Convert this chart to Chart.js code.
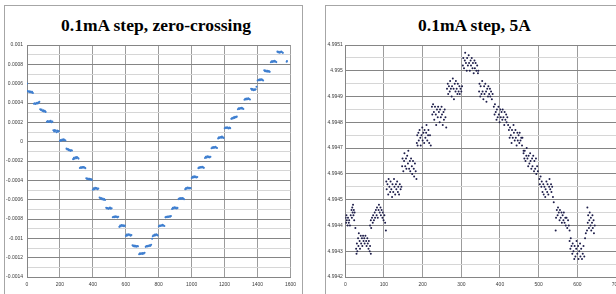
<!DOCTYPE html>
<html>
<head>
<meta charset="utf-8">
<script src="https://cdn.jsdelivr.net/npm/chart.js@4.4.1/dist/chart.umd.min.js"></script>
<style>
  html, body { margin: 0; padding: 0; background: #fff; width: 616px; height: 294px; overflow: hidden; position: relative; }
  .card { position: absolute; border: 1px solid #a6a6a6; background: #fff; }
  .title { position: absolute; top: 15px; width: 200px; text-align: center; white-space: nowrap;
           font: bold 17.5px/21px 'Liberation Serif', 'Times New Roman', serif; color: #000; }
  canvas { position: absolute; }
</style>
</head>
<body>
<div class="card" style="left:4px;top:5px;width:297px;height:300px"></div>
<div class="card" style="left:325px;top:5px;width:300px;height:300px"></div>
<div class="title" id="zcTitle" style="left:56px"></div>
<div class="title" id="faTitle" style="left:374.5px"></div>
<canvas id="zc" width="296" height="288" style="left:5px;top:6px;width:296px;height:288px"></canvas>
<canvas id="fa" width="300" height="288" style="left:326px;top:6px;width:300px;height:288px"></canvas>
<script>
// --- left chart: 0.1mA step, zero-crossing ---
const zcTitle = '0.1mA step, zero-crossing';
const zcYTicks = [-0.0014, -0.0012, -0.001, -0.0008, -0.0006, -0.0004, -0.0002, 0, 0.0002, 0.0004, 0.0006, 0.0008, 0.001];
const zcYLabels = ['-0.0014', '-0.0012', '-0.001', '-0.0008', '-0.0006', '-0.0004', '-0.0002', '0', '0.0002', '0.0004', '0.0006', '0.0008', '0.001'];
const zcXTicks = [0, 200, 400, 600, 800, 1000, 1200, 1400, 1600];
const zcPoints = [
  [0,0.000602],
  [4,0.000524],[9,0.000516],[13,0.000522],[18,0.000512],[22,0.000519],[27,0.000508],[31,0.000515],[36,0.000504],
  [42,0.000392],[47,0.000398],[51,0.000389],[56,0.000396],[61,0.000401],[65,0.000395],[70,0.000404],[75,0.000412],
  [80,0.000335],[85,0.000328],[89,0.000331],[94,0.000318],[99,0.000324],[103,0.000312],[108,0.000319],[113,0.000308],
  [121,0.000206],[126,0.000214],[130,0.000203],[135,0.000211],[140,0.000207],[144,0.000215],[149,0.000201],[154,0.000209],
  [160,0.000118],[165,0.000105],[169,0.000121],[174,0.000112],[179,0.000098],[183,0.000116],[188,0.000104],[193,0.000109],
  [200,0.000008],[205,0.000016],[209,0.000011],[214,0.000021],[219,0.000014],[223,0.000024],[228,0.000017],[233,0.000012],
  [240,-0.000072],[245,-0.000081],[249,-0.000076],[254,-0.000088],[259,-0.000084],[263,-0.000095],[268,-0.000089],[273,-0.000092],
  [280,-0.000181],[285,-0.000168],[289,-0.000176],[294,-0.000162],[299,-0.000171],[303,-0.000158],[308,-0.000166],[313,-0.000175],
  [321,-0.000272],[326,-0.000266],[330,-0.000271],[335,-0.000263],[340,-0.000269],[344,-0.000262],[349,-0.000267],[354,-0.000274],
  [360,-0.000378],[365,-0.000386],[369,-0.000381],[374,-0.000389],[379,-0.000383],[383,-0.000392],[388,-0.000387],[393,-0.000395],
  [400,-0.000498],[405,-0.000482],[409,-0.000491],[414,-0.000476],[419,-0.000486],[423,-0.000479],[428,-0.000493],[433,-0.000484],
  [441,-0.000578],[446,-0.000588],[450,-0.000582],[455,-0.000596],[460,-0.000589],[464,-0.000601],[469,-0.000594],[474,-0.000603],
  [481,-0.000684],[486,-0.000692],[490,-0.000686],[495,-0.000695],[500,-0.000688],[504,-0.000681],[509,-0.000693],[514,-0.000689],
  [521,-0.000782],[526,-0.000776],[530,-0.000781],[535,-0.000773],[540,-0.000779],[544,-0.000775],[549,-0.000783],[554,-0.000777],
  [561,-0.000881],[566,-0.000868],[570,-0.000876],[575,-0.000862],[580,-0.000871],[584,-0.000865],[589,-0.000874],[594,-0.000869],
  [601,-0.000975],[606,-0.000962],[610,-0.000971],[615,-0.000958],[620,-0.000966],[624,-0.000961],[629,-0.000972],[634,-0.000965],
  [641,-0.001072],[646,-0.001081],[650,-0.001075],[655,-0.001084],[660,-0.001078],[664,-0.001086],[669,-0.001079],[674,-0.001083],
  [681,-0.001165],[686,-0.001156],[690,-0.001162],[695,-0.001154],[700,-0.001161],[704,-0.001152],[709,-0.001158],[714,-0.001149],
  [721,-0.001088],[726,-0.001079],[730,-0.001085],[735,-0.001076],[740,-0.001082],[744,-0.001071],[749,-0.001078],[754,-0.001066],
  [760,-0.001005],
  [764,-0.000978],[768,-0.000968],[772,-0.000974],[777,-0.000962],[781,-0.000969],[786,-0.000958],[790,-0.000965],[794,-0.000971],
  [801,-0.000876],[806,-0.000868],[810,-0.000873],[815,-0.000864],[820,-0.00087],[824,-0.000861],[829,-0.000867],[834,-0.000872],
  [841,-0.000783],[846,-0.000776],[850,-0.000781],[855,-0.000774],[860,-0.000779],[864,-0.000772],[869,-0.000777],[874,-0.00077],
  [881,-0.000696],[886,-0.000684],[890,-0.000692],[895,-0.000679],[900,-0.000688],[904,-0.000681],[909,-0.000691],[914,-0.000685],
  [921,-0.000594],[926,-0.000587],[930,-0.000592],[935,-0.000584],[940,-0.00059],[944,-0.000583],[949,-0.000588],[954,-0.000595],
  [961,-0.000491],[966,-0.000479],[970,-0.000486],[975,-0.000474],[980,-0.000483],[984,-0.000477],[989,-0.000485],[994,-0.00048],
  [1001,-0.000376],[1006,-0.000364],[1010,-0.000371],[1015,-0.000359],[1020,-0.000368],[1024,-0.000362],[1029,-0.00037],[1034,-0.000365],
  [1041,-0.000274],[1046,-0.000265],[1050,-0.000271],[1055,-0.000262],[1060,-0.000268],[1064,-0.00026],[1069,-0.000266],[1074,-0.000271],
  [1081,-0.000169],[1086,-0.000157],[1090,-0.000165],[1095,-0.000151],[1100,-0.00016],[1104,-0.000153],[1109,-0.000162],[1114,-0.000156],
  [1121,-0.000068],[1126,-0.000059],[1130,-0.000066],[1135,-0.000055],[1140,-0.000063],[1144,-0.000052],[1149,-0.00006],[1154,-0.000065],
  [1161,0.000034],[1166,0.000045],[1170,0.000038],[1175,0.000049],[1180,0.000041],[1184,0.000052],[1189,0.000044],[1194,0.000039],
  [1201,0.000138],[1206,0.000147],[1210,0.000141],[1215,0.000149],[1220,0.000143],[1224,0.000136],[1229,0.000145],[1234,0.00014],
  [1241,0.000236],[1246,0.000244],[1250,0.000239],[1255,0.000251],[1260,0.000246],[1264,0.000257],[1269,0.000252],[1274,0.000259],
  [1281,0.000336],[1286,0.000345],[1290,0.000339],[1295,0.000348],[1300,0.000342],[1304,0.000351],[1309,0.000344],[1314,0.000338],
  [1321,0.000434],[1326,0.000443],[1330,0.000437],[1335,0.000446],[1340,0.000439],[1344,0.000448],[1349,0.000441],[1354,0.000436],
  [1361,0.000548],[1366,0.000536],[1370,0.000544],[1375,0.000532],[1380,0.000541],[1384,0.000535],[1389,0.000543],[1394,0.000568],
  [1401,0.000632],[1406,0.000641],[1410,0.000635],[1415,0.000644],[1420,0.000637],[1424,0.000646],[1429,0.000639],[1434,0.000633],
  [1441,0.000738],[1446,0.000729],[1450,0.000735],[1455,0.000726],[1460,0.000733],[1464,0.000724],[1469,0.000731],[1474,0.000722],
  [1481,0.000822],[1486,0.000831],[1490,0.000825],[1495,0.000834],[1500,0.000827],[1504,0.000836],[1509,0.000829],[1514,0.000823],
  [1521,0.000931],[1526,0.000924],[1530,0.000929],[1535,0.000921],[1540,0.000927],[1544,0.000933],[1549,0.000925],[1554,0.000919],
  [1577,0.000826],[1579,0.000834]
];

// --- right chart: 0.1mA step, 5A ---
const faTitle = '0.1mA step, 5A';
const faYTicks = [4.9942, 4.9943, 4.9944, 4.9945, 4.9946, 4.9947, 4.9948, 4.9949, 4.995, 4.9951];
const faYLabels = ['4.9942', '4.9943', '4.9944', '4.9945', '4.9946', '4.9947', '4.9948', '4.9949', '4.995', '4.9951'];
const faXTicks = [0, 100, 200, 300, 400, 500, 600, 700];
const faPoints = [
  [1,4.99443],[2,4.99441],[3,4.99444],[4,4.99442],[6,4.9944],[7,4.99443],[9,4.99441],[10,4.99442],[12,4.9944],[14,4.99444],
  [16,4.99446],[17,4.99443],[18,4.99447],[19,4.99445],[20,4.99448],[21,4.99444],[22,4.99446],[23,4.99442],[24,4.99445],[26,4.99439],
  [28,4.99431],[29,4.99429],[30,4.99433],[31,4.9943],[33,4.99435],[34,4.99432],[35,4.99437],[37,4.99434],[38,4.99431],[40,4.99436],
  [41,4.99433],[43,4.99435],[44,4.99432],[46,4.99436],[47,4.99434],[49,4.99435],[50,4.99433],[52,4.99436],[54,4.99434],[55,4.99432],
  [57,4.99435],[58,4.99433],[60,4.99431],[61,4.99434],[63,4.9943],[64,4.99432],[66,4.99429],
  [64,4.9944],[66,4.99442],[67,4.99439],[69,4.99443],[71,4.99441],[72,4.99444],[74,4.99442],[76,4.99445],[77,4.99443],[79,4.99446],
  [81,4.99444],[82,4.99447],[84,4.99443],[86,4.99446],[87,4.99448],[89,4.99445],[91,4.99447],[92,4.99444],[94,4.99446],[96,4.99443],
  [97,4.99445],[99,4.99442],[101,4.99444],[103,4.99441],[105,4.99438],
  [106,4.99457],[107,4.99454],[109,4.99456],[111,4.99452],[112,4.99458],[114,4.99455],[116,4.99453],[117,4.99457],[119,4.99454],[121,4.99451],
  [122,4.99456],[124,4.99453],[126,4.99458],[127,4.99455],[129,4.99452],[131,4.99456],[132,4.99454],[134,4.99457],[136,4.99453],[137,4.99455],
  [139,4.99452],[141,4.99456],[143,4.99454],[145,4.99455],
  [147,4.99463],[148,4.99466],[150,4.99461],[152,4.99465],[153,4.99468],[155,4.99463],[157,4.99466],[158,4.99462],[160,4.99467],[162,4.99464],
  [163,4.99469],[165,4.99462],[167,4.99465],[168,4.99461],[170,4.99466],[172,4.99463],[173,4.9946],[175,4.99465],[177,4.99462],[178,4.99459],
  [180,4.99464],[182,4.99461],[184,4.99458],
  [185,4.99472],[186,4.99475],[187,4.99471],[189,4.99476],[190,4.99473],[192,4.99477],[194,4.99474],[195,4.99471],[197,4.99475],[199,4.99478],
  [200,4.99473],[202,4.99476],[204,4.99472],[205,4.99477],[207,4.99474],[209,4.99476],[210,4.99479],[212,4.99473],[214,4.99475],[215,4.99477],
  [217,4.99472],[219,4.99475],[221,4.99471],
  [224,4.99486],[225,4.99483],[227,4.99487],[229,4.99484],[230,4.99481],[232,4.99486],[234,4.99483],[235,4.99479],[237,4.99485],[239,4.99482],
  [240,4.99486],[242,4.99484],[244,4.9948],[245,4.99485],[247,4.99482],[249,4.99486],[250,4.99483],[252,4.99479],[254,4.99484],[255,4.99481],
  [257,4.99485],[259,4.99482],[261,4.99478],
  [263,4.99493],[265,4.99495],[266,4.99491],[268,4.99494],[270,4.99492],[271,4.99496],[273,4.99493],[275,4.9949],[276,4.99494],[278,4.99497],
  [280,4.99493],[281,4.99489],[283,4.99495],[285,4.99492],[286,4.99496],[288,4.99493],[290,4.99491],[291,4.99495],[293,4.99492],[295,4.99494],
  [296,4.99491],[298,4.99493],[300,4.99492],[302,4.99494],
  [304,4.99502],[305,4.99505],[307,4.99501],[309,4.99504],[310,4.99507],[312,4.99503],[314,4.995],[315,4.99505],[317,4.99502],[319,4.99506],
  [320,4.99503],[322,4.995],[324,4.99504],[325,4.99502],[327,4.99505],[329,4.99501],[330,4.99503],[332,4.99499],[334,4.99504],[335,4.99501],
  [337,4.99503],[339,4.995],[341,4.99502],[343,4.99499],
  [344,4.995],[346,4.99492],[347,4.99495],[349,4.9949],[350,4.99494],[352,4.99491],[354,4.99496],[355,4.99492],[357,4.99489],[359,4.99494],
  [360,4.99491],[362,4.99495],[364,4.99492],[365,4.99488],[367,4.99493],[369,4.9949],[370,4.99494],[372,4.99491],[374,4.99493],[375,4.9949],
  [377,4.99492],[379,4.99489],[381,4.99491],
  [384,4.99486],[386,4.99483],[387,4.99487],[389,4.99484],[391,4.99481],[392,4.99485],[394,4.99482],[396,4.99486],[397,4.99483],[399,4.9948],
  [401,4.99485],[402,4.99482],[404,4.99484],[406,4.99481],[407,4.99485],[409,4.99482],[411,4.99479],[412,4.99484],[414,4.99481],[416,4.99483],
  [417,4.9948],[419,4.99482],[421,4.99479],
  [423,4.99477],[425,4.99474],[426,4.99478],[428,4.99475],[430,4.99472],[431,4.99477],[433,4.99474],[435,4.99479],[436,4.99476],[438,4.99473],
  [440,4.99477],[441,4.99474],[443,4.99471],[445,4.99476],[446,4.99473],[448,4.99475],[450,4.99472],[451,4.99476],[453,4.99473],[455,4.99474],
  [457,4.99471],[458,4.99474],[461,4.99469],
  [461,4.99468],[463,4.99466],[464,4.99469],[466,4.99465],[468,4.99467],[469,4.9947],[471,4.99466],[473,4.99463],[474,4.99467],[476,4.99464],
  [478,4.99468],[479,4.99465],[481,4.99462],[483,4.99466],[484,4.99463],[486,4.99467],[488,4.99461],[489,4.99465],[491,4.99462],[493,4.99466],
  [494,4.9946],[496,4.99463],[498,4.99461],
  [502,4.99458],[503,4.99456],[505,4.99459],[507,4.99455],[508,4.99457],[510,4.99453],[512,4.99456],[513,4.99452],[515,4.99455],[517,4.99451],
  [518,4.99454],[520,4.99457],[522,4.99453],[523,4.99456],[525,4.99452],[527,4.99455],[528,4.99458],[530,4.99454],[532,4.99456],[533,4.99453],
  [535,4.99455],[537,4.99451],[539,4.99449],
  [544,4.99438],[545,4.99443],[547,4.99446],[549,4.99444],[550,4.99447],[552,4.99445],[554,4.99442],[555,4.99446],[557,4.99443],[559,4.99445],
  [560,4.99441],[562,4.99444],[564,4.99442],[565,4.99445],[567,4.99441],[569,4.99443],[570,4.9944],[572,4.99443],[574,4.99439],[576,4.99442],
  [578,4.9944],[580,4.99438],
  [580,4.99434],[582,4.99431],[583,4.99435],[585,4.99432],[587,4.99429],[588,4.99433],[590,4.9943],[592,4.99427],[593,4.99432],[595,4.99428],
  [597,4.99431],[598,4.99434],[600,4.99429],[602,4.99432],[603,4.99427],[605,4.9943],[607,4.99433],[608,4.99428],[610,4.99431],[612,4.99427],
  [614,4.99429],[616,4.99432],[618,4.99428],[620,4.99435],[622,4.99437],
  [625,4.99438],[626,4.99447],[627,4.99441],[628,4.99444],[630,4.99439],[631,4.99442],[632,4.99445],[634,4.9944],[635,4.99443],[636,4.99438],
  [638,4.99441],[639,4.99444],[640,4.99439],[642,4.99442],[643,4.99437],[645,4.9944]
];

const majorGrid = '#858585';
const minorGrid = '#d6d6d6';
const vGrid = '#9c9c9c';
const tickFont = { family: "'Liberation Sans', Arial, sans-serif", size: 5 };
const tickColor = '#3a3a3a';

// majors with a light line half way between each pair
function withMinor(majors) {
  const out = [];
  majors.forEach((v, i) => {
    if (i > 0) out.push({ value: (majors[i - 1] + v) / 2 });
    out.push({ value: v });
  });
  return out;
}

function makeChart(id, cfg) {
  document.getElementById(id + 'Title').textContent = cfg.title;
  return new Chart(document.getElementById(id), {
    type: 'scatter',
    data: {
      datasets: [{
        data: cfg.points.map(([x, y]) => ({ x, y })),
        backgroundColor: cfg.color,
        borderWidth: 0,
        pointRadius: cfg.radius,
        pointHoverRadius: cfg.radius,
      }],
    },
    options: {
      responsive: false,
      animation: false,
      devicePixelRatio: 1,
      layout: { padding: cfg.padding },
      plugins: { legend: { display: false }, tooltip: { enabled: false } },
      scales: {
        x: {
          type: 'linear',
          min: cfg.xTicks[0],
          max: cfg.xTicks[cfg.xTicks.length - 1],
          afterBuildTicks: (s) => { s.ticks = cfg.xTicks.map((v) => ({ value: v })); },
          afterFit: (s) => { s.height = 17; },
          ticks: { autoSkip: false, maxRotation: 0, padding: 5, font: tickFont, color: tickColor, callback: (v) => String(v) },
          grid: { drawTicks: false, color: vGrid },
          border: { color: majorGrid },
        },
        y: {
          min: cfg.yTicks[0],
          max: cfg.yTicks[cfg.yTicks.length - 1],
          afterBuildTicks: (s) => { s.ticks = withMinor(cfg.yTicks); },
          afterFit: (s) => { s.width = cfg.yWidth; },
          ticks: {
            autoSkip: false, padding: cfg.yPad, font: tickFont, color: tickColor,
            callback: (v, i) => (i % 2 ? '' : cfg.yLabels[i / 2]),
          },
          grid: { drawTicks: false, color: (c) => (c.index % 2 ? minorGrid : majorGrid) },
          border: { color: majorGrid },
        },
      },
    },
  });
}

makeChart('zc', {
  title: zcTitle, points: zcPoints, xTicks: zcXTicks, yTicks: zcYTicks, yLabels: zcYLabels,
  color: '#3f7fd0', radius: 1.05, padding: { left: 0, right: 9, top: 39, bottom: 0 }, yWidth: 22, yPad: 4,
});

makeChart('fa', {
  title: faTitle, points: faPoints, xTicks: faXTicks, yTicks: faYTicks, yLabels: faYLabels,
  color: '#1e1e4a', radius: 1.0, padding: { left: 0, right: 10, top: 39, bottom: 0 }, yWidth: 19.3, yPad: 2.5,
});
</script>
</body>
</html>
